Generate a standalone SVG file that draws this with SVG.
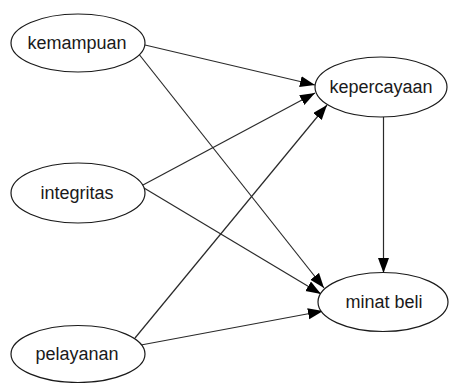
<svg xmlns="http://www.w3.org/2000/svg" width="449" height="383" viewBox="0 0 449 383">
<style>
.node ellipse{fill:#fff;stroke:#1a1a1a;stroke-width:1.2}
.node text{font-family:"Liberation Sans",Arial,sans-serif;font-size:18px;fill:#1a1a1a;text-anchor:middle}
.edge{stroke:#2a2a2a;stroke-width:1.2;fill:none;marker-end:url(#ah)}
</style>
<defs>
<marker id="ah" markerUnits="userSpaceOnUse" markerWidth="16" markerHeight="12" refX="15" refY="5.5" orient="auto">
<path d="M0,0 L15,5.5 L0,11 z" fill="#000"/>
</marker>
</defs>
<rect width="449" height="383" fill="#fff"/>
<g id="connectors">
<line class="edge" x1="145" y1="45" x2="315" y2="85"/>
<line class="edge" x1="138" y1="53" x2="324" y2="288"/>
<line class="edge" x1="143" y1="185" x2="315" y2="93"/>
<line class="edge" x1="144" y1="188" x2="321" y2="294"/>
<line class="edge" x1="135" y1="338" x2="327" y2="105"/>
<line class="edge" x1="141" y1="345" x2="323" y2="311"/>
<line class="edge" x1="383.5" y1="117" x2="383.5" y2="273"/>
</g>
<g id="kemampuan" class="node"><ellipse cx="78" cy="43" rx="67" ry="29"/><text x="77" y="49">kemampuan</text></g>
<g id="kepercayaan" class="node"><ellipse cx="381" cy="87" rx="66" ry="30"/><text x="381" y="93">kepercayaan</text></g>
<g id="integritas" class="node"><ellipse cx="78" cy="193" rx="67" ry="30"/><text x="77" y="199">integritas</text></g>
<g id="minat_beli" class="node"><ellipse cx="383" cy="302" rx="65" ry="29.5"/><text x="384" y="308">minat beli</text></g>
<g id="pelayanan" class="node"><ellipse cx="78" cy="354" rx="67" ry="28.5"/><text x="77" y="360">pelayanan</text></g>
</svg>
